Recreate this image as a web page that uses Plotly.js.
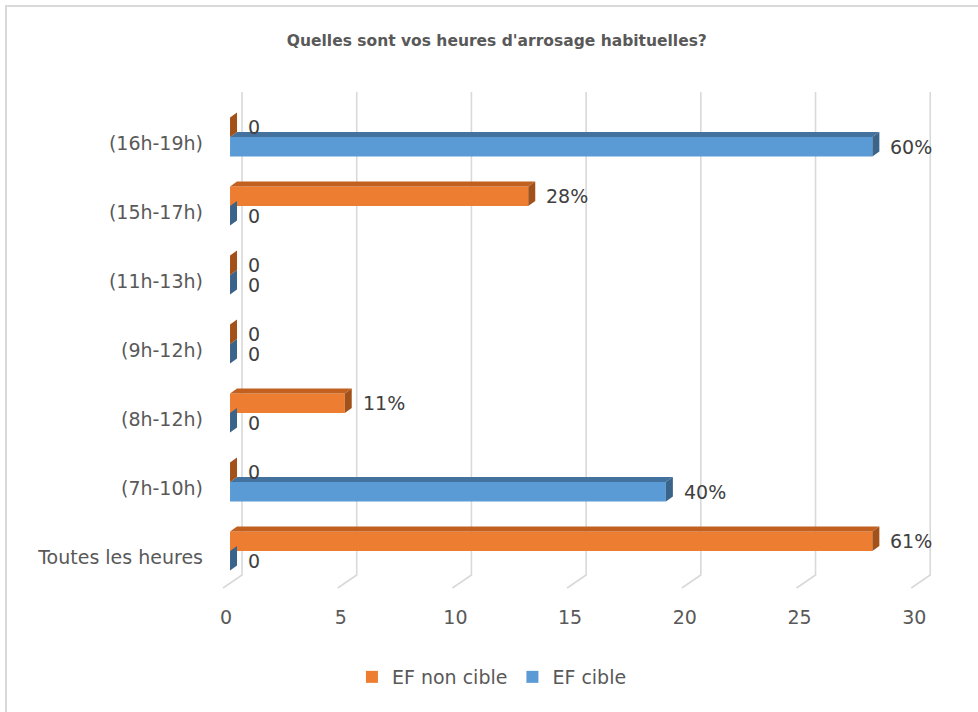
<!DOCTYPE html>
<html>
<head>
<meta charset="utf-8">
<script src="https://cdn.plot.ly/plotly-3.0.1.min.js"></script>
<style>
  html, body { margin:0; padding:0; background:#ffffff; overflow:hidden; width:978px; height:712px; }
  #frame { position:absolute; left:5px; top:5px; width:1200px; height:1200px; border:2.5px solid #d9d9d9; box-sizing:border-box; z-index:0; }
  #chart { position:absolute; left:0; top:0; width:978px; height:712px; z-index:1; }
</style>
</head>
<body>
<div id="frame"></div>
<div id="chart"></div>
<script>
// ---- data (bottom-to-top category order, as in the source chart) ----
const categories = ["Toutes les heures", "(7h-10h)", "(8h-12h)", "(9h-12h)", "(11h-13h)", "(15h-17h)", "(16h-19h)"];
const nonCibleValues = [28, 0, 5, 0, 0, 13, 0];
const cibleValues    = [0, 19, 0, 0, 0, 0, 28];
const nonCibleLabels = ["61%", "0", "11%", "0", "0", "28%", "0"];
const cibleLabels    = ["0", "40%", "0", "0", "0", "0", "60%"];
const xTicks = [0, 5, 10, 15, 20, 25, 30];
const seriesNames = ["EF non cible", "EF cible"];

// ---- styling / geometry ----
const W = 978, H = 712;
const M = {l: 222, r: 46, t: 92, b: 124};
const xRange = [-0.35, 30.6];
const yRange = [-0.537, 6.653];
const plotW = W - M.l - M.r, plotH = H - M.t - M.b;
const pxX = plotW / (xRange[1] - xRange[0]);
const pxY = plotH / (yRange[1] - yRange[0]);
const bargap = 0.434;
const bw = (1 - bargap) / 2;
const dX = 7 / pxX, dY = 5 / pxY;   // 3-D depth offsets in data units
const orange = "#ED7D31", orangeTop = "#C2611F", orangeSide = "#A3511A";
const blue = "#5B9BD5", blueTop = "#44729E", blueSide = "#3A6489";
const font = "DejaVu Sans";
const idx = categories.map((c, i) => i);

const traces = [
  {type: "bar", orientation: "h", name: seriesNames[1], y: idx, x: cibleValues,
   marker: {color: blue}, hoverinfo: "x+name"},
  {type: "bar", orientation: "h", name: seriesNames[0], y: idx, x: nonCibleValues,
   marker: {color: orange}, hoverinfo: "x+name"}
];

const shapes = [];
// gridlines on the back wall with a floor segment
const backOff = 12 / pxX, frontOff = -7 / pxX;
const floorY = 13 / plotH;
xTicks.forEach(t => {
  shapes.push({type: "path", xref: "x", yref: "paper", layer: "below",
    path: `M ${t + backOff},1 L ${t + backOff},${floorY} L ${t + frontOff},0`,
    line: {color: "#d9d9d9", width: 1.6}});
});
function faces(vals, lo, hi, topCol, sideCol) {
  vals.forEach((v, i) => {
    const y0 = i + lo, y1 = i + hi;
    if (v > 0) {
      shapes.push({type: "path", xref: "x", yref: "y", layer: "above",
        path: `M 0,${y1} L ${v},${y1} L ${v + dX},${y1 + dY} L ${dX},${y1 + dY} Z`,
        fillcolor: topCol, line: {width: 0}});
    }
    shapes.push({type: "path", xref: "x", yref: "y", layer: "above",
      path: `M ${v},${y0} L ${v},${y1} L ${v + dX},${y1 + dY} L ${v + dX},${y0 + dY} Z`,
      fillcolor: sideCol, line: {width: 0}});
  });
}
faces(cibleValues, -bw, 0, blueTop, blueSide);
faces(nonCibleValues, 0, bw, orangeTop, orangeSide);

const annotations = [];
function labels(vals, texts, yOff) {
  vals.forEach((v, i) => {
    annotations.push({x: v, y: i + yOff, xref: "x", yref: "y", text: texts[i],
      showarrow: false, xanchor: "left", yanchor: "middle", xshift: 16,
      font: {family: font, size: 19, color: "#404040"}});
  });
}
labels(nonCibleValues, nonCibleLabels, bw / 2);
labels(cibleValues, cibleLabels, -bw / 2);

const layout = {
  width: W, height: H,
  margin: M,
  paper_bgcolor: "rgba(0,0,0,0)",
  plot_bgcolor: "rgba(0,0,0,0)",
  barmode: "group", bargap: bargap, bargroupgap: 0,
  title: {text: "Quelles sont vos heures d'arrosage habituelles?",
    font: {family: font, size: 15.5, weight: 700, color: "#595959"},
    xref: "container", x: 0.508, xanchor: "center",
    yref: "container", y: 1 - 41 / H, yanchor: "middle"},
  xaxis: {range: xRange, tickvals: xTicks, ticktext: xTicks.map(String),
    showgrid: false, zeroline: false, showline: false, ticks: "",
    ticklabelstandoff: 16, ticklabelshift: -4,
    tickfont: {family: font, size: 19, color: "#595959"}},
  yaxis: {range: yRange, tickvals: idx, ticktext: categories,
    showgrid: false, zeroline: false, showline: false, ticks: "",
    ticklabelstandoff: 18, ticklabelshift: 6,
    tickfont: {family: font, size: 19, color: "#595959"}},
  showlegend: true,
  legend: {orientation: "h", traceorder: "reversed",
    xref: "container", x: 0.503, xanchor: "center",
    yref: "container", y: 1 - 677 / H, yanchor: "middle",
    font: {family: font, size: 19, color: "#595959"}, bgcolor: "rgba(0,0,0,0)"},
  shapes: shapes,
  annotations: annotations
};

Plotly.newPlot("chart", traces, layout, {displayModeBar: false, staticPlot: true});
</script>
</body>
</html>
